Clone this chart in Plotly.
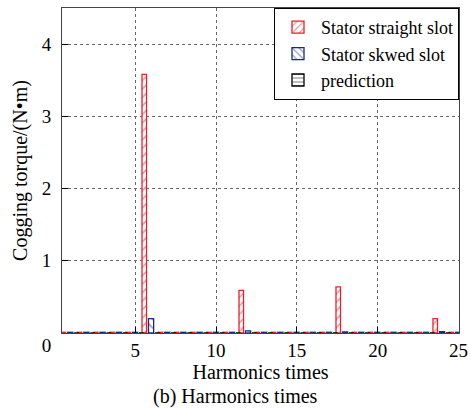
import plotly.graph_objects as go

harmonics = list(range(1, 26))
straight_slot = [0.01, 0.01, 0.01, 0.01, 0.01, 3.58, 0.01, 0.01, 0.01, 0.01,
                 0.01, 0.59, 0.01, 0.01, 0.01, 0.01, 0.01, 0.64, 0.01, 0.01,
                 0.01, 0.01, 0.01, 0.20, 0.01]
skewed_slot = [0.01, 0.01, 0.01, 0.01, 0.01, 0.20, 0.01, 0.01, 0.01, 0.01,
               0.01, 0.03, 0.01, 0.01, 0.01, 0.01, 0.01, 0.015, 0.01, 0.01,
               0.01, 0.01, 0.01, 0.02, 0.01]
prediction = [0.0] * 25

y_tickvals = [0, 1, 2, 3, 4]
y_ticktext = ["<br>0", "1", "2", "3", "4"]
x_tickvals = [5, 10, 15, 20, 25]

RED = "#e3232b"
BLUE = "#1b2a7f"
FONT = "Liberation Serif"

fig = go.Figure()
fig.add_trace(go.Bar(
    x=harmonics, y=straight_slot, name="Stator straight slot",
    offset=-0.58, width=0.28,
    marker=dict(color="white", line=dict(color=RED, width=1.3),
                pattern=dict(shape="/", fgcolor=RED, bgcolor="white", size=6, solidity=0.25)),
))
fig.add_trace(go.Bar(
    x=harmonics, y=skewed_slot, name="Stator skwed slot",
    offset=-0.18, width=0.32,
    marker=dict(color="white", line=dict(color=BLUE, width=1.3),
                pattern=dict(shape="\\", fgcolor=BLUE, bgcolor="white", size=6, solidity=0.25)),
))
fig.add_trace(go.Bar(
    x=harmonics, y=prediction, name="prediction",
    offset=0.22, width=0.3,
    marker=dict(color="white", line=dict(color="black", width=1.3),
                pattern=dict(shape="-", fgcolor="black", bgcolor="white", size=5, solidity=0.25)),
))

fig.update_layout(
    width=470, height=409,
    margin=dict(l=62, r=11, t=8, b=76, autoexpand=False),
    barmode="overlay",
    plot_bgcolor="white", paper_bgcolor="white",
    font=dict(family=FONT, size=19, color="black"),
    showlegend=True,
    legend=dict(x=1, y=1, xanchor="right", yanchor="top",
                bgcolor="white", bordercolor="black", borderwidth=1,
                font=dict(family=FONT, size=18), tracegroupgap=0,
                itemwidth=36),
    xaxis=dict(range=[0.47, 25.03], tickvals=x_tickvals, ticks="inside", ticklen=6,
               tickcolor="black", showline=True, mirror=True, linecolor="#444",
               linewidth=1, showgrid=True, gridcolor="#666", griddash="dot",
               gridwidth=1, zeroline=False, automargin=False,
               ticklabeloverflow="allow",
               title=dict(text="Harmonics times", font=dict(size=20), standoff=2)),
    yaxis=dict(range=[0, 4.5], tickvals=y_tickvals, ticktext=y_ticktext,
               ticks="inside", ticklen=6, tickcolor="black", showline=True,
               mirror=True, linecolor="#444", linewidth=1, showgrid=True,
               gridcolor="#666", griddash="dot", gridwidth=1, zeroline=False,
               ticklabelstandoff=6, automargin=False,
               title=dict(text="Cogging torque/(N•m)", font=dict(size=20), standoff=8)),
    annotations=[dict(text="(b) Harmonics times", xref="paper", yref="paper",
                      x=0.436, y=-0.194, xanchor="center", yanchor="middle",
                      showarrow=False, font=dict(family=FONT, size=20))],
)

fig.write_html("out.html", config={"displayModeBar": False},
               post_script="document.body.style.margin='0';document.body.style.overflow='hidden';")
